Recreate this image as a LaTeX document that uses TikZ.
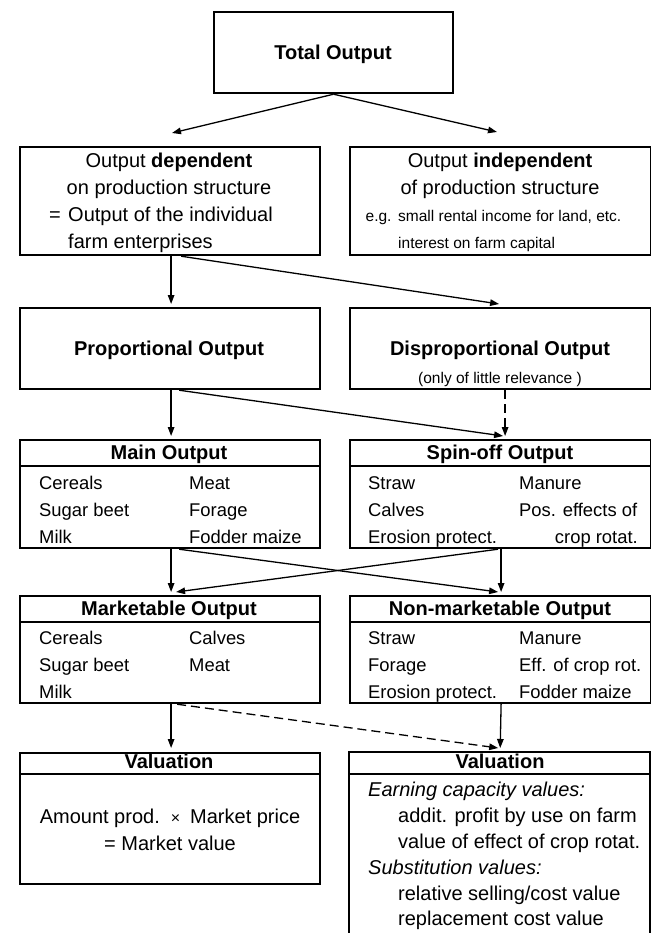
\documentclass[tikz,border=0pt]{standalone}
\usepackage{fontspec}
\setmainfont{Liberation Sans}
\usetikzlibrary{arrows.meta,calc}
\tikzset{
  box/.style={draw, line width=2.2bp, anchor=north west, inner sep=0pt, minimum width=300bp},
  arr/.style={line width=1.3bp, -{Triangle[length=9bp,width=6.5bp]}},
  dasharr/.style={arr, dash pattern=on 9bp off 5bp},
  txt/.style={inner sep=0pt, yshift=-4bp, font=\fontsize{20bp}{27bp}\selectfont},
  item/.style={inner sep=0pt, yshift=-4bp, anchor=mid west, font=\fontsize{18.4bp}{27bp}\selectfont},
  small/.style={inner sep=0pt, yshift=-4bp, font=\fontsize{15.5bp}{20bp}\selectfont},
  hd/.style={inner sep=0pt, yshift=-4bp, anchor=mid, font=\fontsize{20bp}{27bp}\selectfont\bfseries},
  sepline/.style={line width=1.6bp},
}
\begin{document}
\begin{tikzpicture}[x=1bp,y=-1bp]
\useasboundingbox (0,0) rectangle (651,933);

% boxes
\node[box, minimum width=239bp, minimum height=81bp] (tot) at (213,11) {};
\node[box, minimum height=108bp] (dep) at (19,146) {};
\node[box, minimum width=301bp, minimum height=108bp] (indep) at (349,146) {};
\node[box, minimum height=81bp] (prop) at (19,307) {};
\node[box, minimum width=301bp, minimum height=81bp] (disp) at (349,307) {};
\node[box, minimum height=108bp] (main) at (19,439) {};
\node[box, minimum width=301bp, minimum height=108bp] (spin) at (349,439) {};
\node[box, minimum height=107bp] (mkt) at (19,595) {};
\node[box, minimum width=301bp, minimum height=107bp] (nmkt) at (349,595) {};
\node[box, minimum height=131bp] (val1) at (19,752) {};
\node[inner sep=0pt, anchor=north west, minimum width=301bp, minimum height=181bp] (val2) at (349,752) {};
\draw[line width=2.2bp] (val2.south west) |- (val2.north east) -- (val2.south east);

% header separators
\draw[sepline] ([yshift=-27bp]main.north west) -- ([yshift=-27bp]main.north east);
\draw[sepline] ([yshift=-27bp]spin.north west) -- ([yshift=-27bp]spin.north east);
\draw[sepline] ([yshift=-27bp]mkt.north west) -- ([yshift=-27bp]mkt.north east);
\draw[sepline] ([yshift=-27bp]nmkt.north west) -- ([yshift=-27bp]nmkt.north east);
\draw[sepline] ([yshift=-22bp]val1.north west) -- ([yshift=-22bp]val1.north east);
\draw[sepline] ([yshift=-22bp]val2.north west) -- ([yshift=-22bp]val2.north east);

% texts
\node[hd] (totT) at (333,53) {Total Output};

\node[txt, anchor=mid] (dep1) at (169,161) {Output \textbf{dependent}};
\node[txt, anchor=mid] (dep2) at (169,188) {on production structure};
\node[txt, anchor=mid west] (dep3a) at (49,215) {=};
\node[txt, anchor=mid west] (dep3) at (68,215) {Output of the individual};
\node[txt, anchor=mid west] (dep4) at (68,242) {farm enterprises};

\node[txt, anchor=mid] (ind1) at (500,161) {Output \textbf{independent}};
\node[txt, anchor=mid] (ind2) at (500,188) {of production structure};
\node[small, anchor=mid west] (ind3a) at (365.5,215) {e.g.};
\node[small, anchor=mid west] (ind3) at (398,215) {small rental income for land, etc.};
\node[small, anchor=mid west] (ind4) at (398,242) {interest on farm capital};

\node[hd] (propT) at (169,349) {Proportional Output};
\node[hd] (dispT) at (500,349) {Disproportional Output};
\node[small, anchor=mid] (disp2) at (500,377) {(only of little relevance )};

\node[hd] (mainT) at (169,453) {Main Output};
\node[item] (m1) at (39,483) {Cereals};
\node[item] (m2) at (39,510) {Sugar beet};
\node[item] (m3) at (39,537) {Milk};
\node[item] (m4) at (189,483) {Meat};
\node[item] (m5) at (189,510) {Forage};
\node[item] (m6) at (189,537) {Fodder maize};

\node[hd] (spinT) at (500,453) {Spin-off Output};
\node[item] (s1) at (368,483) {Straw};
\node[item] (s2) at (368,510) {Calves};
\node[item] (s3) at (368,537) {Erosion protect.};
\node[item] (s4) at (519,483) {Manure};
\node[item] (s5) at (519,510) {Pos. effects of};
\node[item, anchor=mid east] (s6) at (638,537) {crop rotat.};

\node[hd] (mktT) at (169,609) {Marketable Output};
\node[item] (k1) at (39,638) {Cereals};
\node[item] (k2) at (39,665) {Sugar beet};
\node[item] (k3) at (39,692) {Milk};
\node[item] (k4) at (189,638) {Calves};
\node[item] (k5) at (189,665) {Meat};

\node[hd] (nmktT) at (500,609) {Non-marketable Output};
\node[item] (n1) at (368,638) {Straw};
\node[item] (n2) at (368,665) {Forage};
\node[item] (n3) at (368,692) {Erosion protect.};
\node[item] (n4) at (519,638) {Manure};
\node[item] (n5) at (519,665) {Eff. of crop rot.};
\node[item] (n6) at (519,692) {Fodder maize};

\node[hd] (val1T) at (169,762) {Valuation};
\node[txt, anchor=mid] (v1) at (170,817) {Amount prod.\hspace{11bp}{\fontsize{16bp}{16bp}\selectfont ×}\hspace{10bp}Market price};
\node[txt, anchor=mid] (v2) at (170,844) {= Market value};

\node[hd] (val2T) at (500,762) {Valuation};
\node[txt, anchor=mid west] (w1) at (368,790) {\itshape Earning capacity values:};
\node[txt, anchor=mid west] (w2) at (398,816) {addit. profit by use on farm};
\node[txt, anchor=mid west] (w3) at (398,842) {value of effect of crop rotat.};
\node[txt, anchor=mid west] (w4) at (368,868) {\itshape Substitution values:};
\node[txt, anchor=mid west] (w5) at (398,894) {relative selling/cost value};
\node[txt, anchor=mid west] (w6) at (398,919) {replacement cost value};

% connectors
\coordinate (tl) at (172,133);
\coordinate (tr) at (497,132);
\draw[arr] (tot.south) -- (tl);
\draw[arr] (tot.south) -- (tr);
\draw[arr] ([xshift=1bp]dep.south) -- ([xshift=1bp,yshift=3bp]prop.north);
\draw[arr] ([xshift=11bp]dep.south) -- ([xshift=-1.5bp,yshift=3bp]disp.north);
\draw[arr] ([xshift=1bp]prop.south) -- ([xshift=1bp,yshift=3bp]main.north);
\draw[arr] ([xshift=9bp]prop.south) -- ([xshift=2.5bp,yshift=3bp]spin.north);
\draw[dasharr] ([xshift=4.5bp]disp.south) -- ([xshift=4.5bp,yshift=3bp]spin.north);
\draw[arr] ([xshift=1bp]main.south) -- ([xshift=1bp,yshift=3bp]mkt.north);
\draw[arr] ([xshift=9bp]main.south) -- ([xshift=-2.5bp,yshift=3bp]nmkt.north);
\draw[arr] ([xshift=-2.5bp]spin.south) -- ([xshift=6bp,yshift=3bp]mkt.north);
\draw[arr] ([xshift=0.5bp]spin.south) -- ([xshift=0.5bp,yshift=3bp]nmkt.north);
\draw[arr] ([xshift=1bp]mkt.south) -- ([xshift=1bp,yshift=4bp]val1.north);
\draw[dasharr] ([xshift=7bp]mkt.south) -- ([xshift=-1.5bp,yshift=4bp]val2.north);
\draw[arr] ([xshift=0.5bp]nmkt.south) -- ([xshift=0.5bp,yshift=4bp]val2.north);
\end{tikzpicture}
\end{document}
